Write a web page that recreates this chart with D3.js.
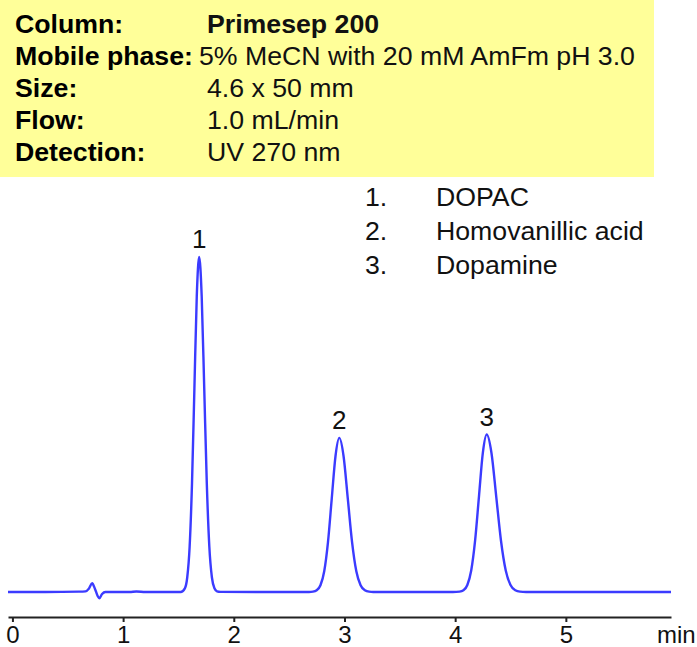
<!DOCTYPE html>
<html>
<head>
<meta charset="utf-8">
<script src="https://cdn.jsdelivr.net/npm/d3@7"></script>
<style>
  html, body { margin: 0; padding: 0; background: #ffffff; }
  svg { display: block; }
</style>
</head>
<body>
<svg id="chart" width="697" height="647"></svg>
<script>
// ---------- data ----------
const infoLabels = ["Column:", "Mobile phase:", "Size:", "Flow:", "Detection:"];
const infoValues = ["Primesep 200", "5% MeCN with 20 mM AmFm pH 3.0", "4.6 x 50 mm", "1.0 mL/min", "UV 270 nm"];

const legendNumbers = ["1.", "2.", "3."];
const compounds = ["DOPAC", "Homovanillic acid", "Dopamine"];

const peakLabels = ["1", "2", "3"];
const peakTimes = [1.687, 2.953, 4.285];
const peakHeights = [100, 46, 47];

const xTicks = [0, 1, 2, 3, 4, 5];
const xUnit = "min";

// chromatogram trace: retention time (min) and detector signal (relative units)
const times = [
  -0.04, 0.30, 0.60, 0.66, 0.69, 0.72, 0.745, 0.77, 0.785, 0.81, 0.84, 0.90,
  1.06, 1.12, 1.20, 1.40, 1.52,
  1.558, 1.5795, 1.601, 1.6225, 1.644, 1.6655, 1.687, 1.710, 1.733, 1.756, 1.779, 1.802, 1.825, 1.848, 1.88,
  2.20, 2.50, 2.68,
  2.715, 2.749, 2.783, 2.817, 2.851, 2.885, 2.919, 2.953, 2.9915, 3.030, 3.0685, 3.107, 3.1455, 3.184, 3.2225, 3.26,
  3.70, 3.98,
  4.04, 4.075, 4.11, 4.145, 4.18, 4.215, 4.25, 4.285, 4.328, 4.371, 4.414, 4.457, 4.50, 4.543, 4.586, 4.64,
  5.00, 5.95
];
const signal = [
  0, 0, 0.1, 0.2, 1.0, 2.6, 1.0, -1.2, -1.9, -0.6, 0, 0,
  0.02, 0.15, 0.02, 0, 0,
  1.1, 4.4, 13.5, 32.5, 60.7, 88.3, 100, 88.3, 60.7, 32.5, 13.5, 4.4, 1.1, 0.2, 0.05,
  0, 0, 0,
  0.1, 0.5, 2.0, 6.2, 14.9, 27.9, 40.6, 46, 40.6, 27.9, 14.9, 6.2, 2.0, 0.5, 0.1, 0.02,
  0, 0,
  0.1, 0.5, 2.1, 6.4, 15.3, 28.5, 41.5, 47, 41.5, 28.5, 15.3, 6.4, 2.1, 0.5, 0.1, 0.02,
  0, 0
];

// ---------- drawing ----------
const svg = d3.select("#chart");
const font = "'Liberation Sans', Arial, sans-serif";

// info box
svg.append("rect").attr("x", 0).attr("y", 0).attr("width", 654).attr("height", 177).attr("fill", "#ffff99");
const infoG = svg.append("g").attr("font-family", font).attr("font-size", 26.7);
infoLabels.forEach((lab, i) => {
  const yb = 33 + i * 32;
  const t = infoG.append("text").attr("x", 15).attr("y", yb).attr("font-weight", "bold").attr("fill", "#000").text(lab);
  const end = 15 + t.node().getComputedTextLength();
  infoG.append("text").attr("x", end > 185 ? end + 6 : 207).attr("y", yb)
    .attr("font-weight", i === 0 ? "bold" : "normal").attr("fill", "#111").text(infoValues[i]);
});

// scales
const x = d3.scaleLinear().domain([-0.04, 5.95]).range([8, 671]);
const y = d3.scaleLinear().domain([0, 100]).range([592, 257]);

// trace
const pts = times.map((t, i) => [t, signal[i]]);
svg.append("path")
  .datum(pts)
  .attr("fill", "none")
  .attr("stroke", "#3b3bff")
  .attr("stroke-width", 2.4)
  .attr("stroke-linejoin", "round")
  .attr("d", d3.line().x(d => x(d[0])).y(d => y(d[1])).curve(d3.curveMonotoneX));

// peak labels
svg.append("g").attr("font-family", font).attr("font-size", 26).attr("fill", "#111")
  .selectAll("text").data(peakLabels).join("text")
  .attr("x", (d, i) => x(peakTimes[i]))
  .attr("y", (d, i) => y(peakHeights[i]) - 9)
  .attr("text-anchor", "middle")
  .text(d => d);

// legend
const legG = svg.append("g").attr("font-family", font).attr("font-size", 26.7).attr("fill", "#111");
compounds.forEach((c, i) => {
  const yb = 206 + i * 34;
  legG.append("text").attr("x", 365).attr("y", yb).text(legendNumbers[i]);
  legG.append("text").attr("x", 436).attr("y", yb).text(c);
});

// x axis
const axis = d3.axisBottom(x).tickValues(xTicks).tickFormat(d3.format("d")).tickSize(5).tickSizeOuter(0).tickPadding(4);
const axG = svg.append("g").attr("transform", "translate(0,617)").call(axis);
axG.select(".domain").attr("stroke", "#222").attr("stroke-width", 2);
axG.selectAll(".tick line").attr("stroke", "#222").attr("stroke-width", 2);
axG.selectAll(".tick text").attr("font-family", font).attr("font-size", 24).attr("fill", "#111");
svg.append("text").attr("x", 657).attr("y", 643).attr("font-family", font).attr("font-size", 24).attr("fill", "#111").text(xUnit);
</script>
</body>
</html>
